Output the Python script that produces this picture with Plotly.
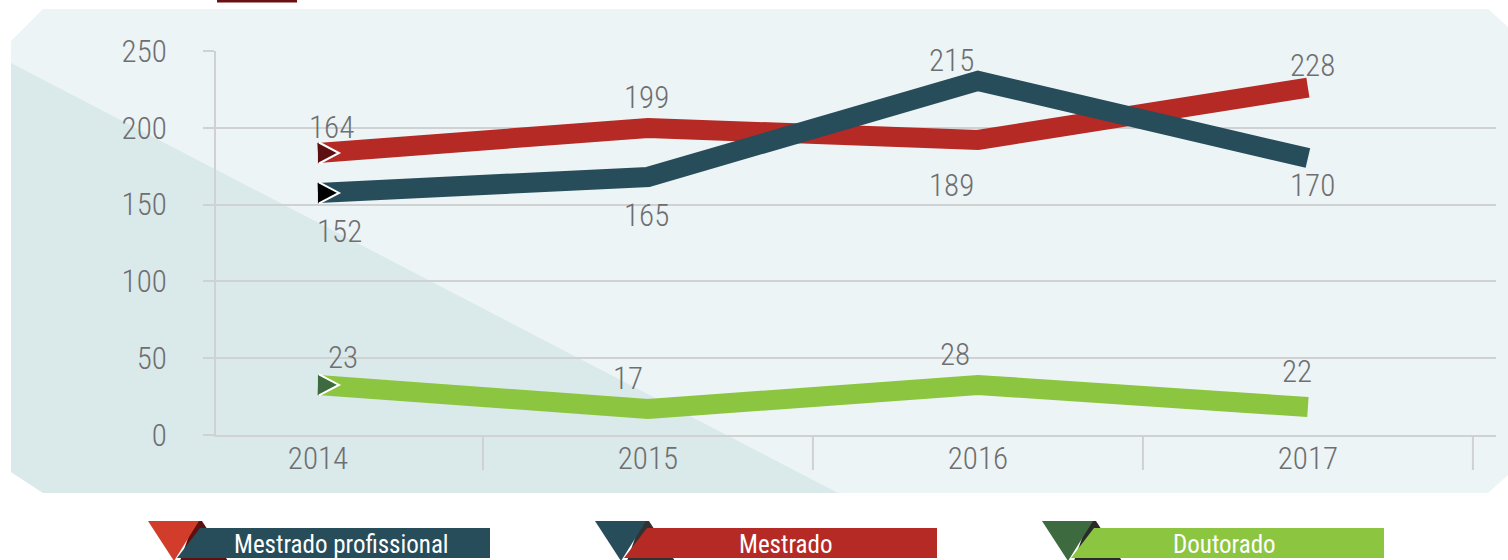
import plotly.graph_objects as go

# ---------------- data ----------------
years = ["2014", "2015", "2016", "2017"]
series_names = ["Mestrado profissional", "Mestrado", "Doutorado"]

# values printed next to the points
mestrado_labels = [164, 199, 189, 228]
mestrado_prof_labels = [152, 165, 215, 170]
doutorado_labels = [23, 17, 28, 22]

# heights at which the lines are actually drawn in the picture
mestrado_drawn = [183.6, 199.9, 192.1, 226.2]
mestrado_prof_drawn = [157.6, 168.0, 230.5, 180.3]
doutorado_drawn = [32.6, 16.9, 32.6, 18.2]

y_ticks = [0, 50, 100, 150, 200, 250]

# ---------------- styling ----------------
W_FIG, H_FIG = 1508, 560
L, R, T, B = 216, 1496, 51, 435
PW, PH = R - L, B - T

RED = "#B52A25"
TEAL = "#274C5A"
GREEN = "#8CC540"
GRID = "#CFD1D3"
TXT = "#6E6F71"
FONT = "Roboto Condensed, Roboto, sans-serif"

xpos = list(range(len(years)))


def px(x):
    return (x - L) / PW


def py(y):
    return (B - y) / PH


def poly(points):
    return "M " + " L ".join(f"{px(x):.5f},{py(y):.5f}" for x, y in points) + " Z"


fig = go.Figure()

series = [
    (mestrado_drawn, mestrado_labels, RED, "#5E0F10", [25, 30, -46, 22], [14, -1, -26, 5]),
    (mestrado_prof_drawn, mestrado_prof_labels, TEAL, "#000000", [-39, -39, 20, -27], [22, -1, -26, 5]),
    (doutorado_drawn, doutorado_labels, GREEN, "#3E6A40", [27, 31, 30, 36], [25, -20, -23, -11]),
]

shapes = []
annotations = []

# background panel with chamfered corners
shapes.append(dict(type="path", xref="paper", yref="paper", layer="below",
                   path=poly([(11, 41), (43, 9), (1488, 9), (1508, 27), (1508, 475),
                              (1488, 493), (43, 493), (11, 472)]),
                   fillcolor="#ECF4F6", line=dict(width=0)))
shapes.append(dict(type="path", xref="paper", yref="paper", layer="below",
                   path=poly([(11, 63), (838, 493), (43, 493), (11, 472)]),
                   fillcolor="#DAE9EA", line=dict(width=0)))
# cut-off banner at the very top
shapes.append(dict(type="rect", xref="paper", yref="paper", layer="below",
                   x0=px(217), x1=px(297), y0=py(2.5), y1=py(-2),
                   fillcolor="#6A0F12", line=dict(width=0)))

# category separators below the x axis
for i in xpos:
    shapes.append(dict(type="line", xref="x", yref="paper", layer="below",
                       x0=i + 0.5, x1=i + 0.5, y0=0, y1=-35 / PH,
                       line=dict(color=GRID, width=2)))

for drawn, labels, color, dark, yshifts, xshifts in series:
    fig.add_trace(go.Scatter(x=xpos, y=drawn, mode="lines",
                             line=dict(color=color, width=20),
                             hoverinfo="skip", showlegend=False))
    # arrow-like start marker
    shapes.append(dict(type="path", xref="x", yref="y", xsizemode="pixel", ysizemode="pixel",
                       xanchor=xpos[0], yanchor=drawn[0],
                       path="M 0,-10.5 L 20,0 L 0,10.5 Z",
                       fillcolor=dark, line=dict(width=0), layer="above"))
    shapes.append(dict(type="path", xref="x", yref="y", xsizemode="pixel", ysizemode="pixel",
                       xanchor=xpos[0], yanchor=drawn[0],
                       path="M 1,-10.5 L 21,0 L 1,10.5",
                       line=dict(color="white", width=2), layer="above"))
    for x, yv, lab, ys, xs in zip(xpos, drawn, labels, yshifts, xshifts):
        annotations.append(dict(x=x, y=yv, xref="x", yref="y", text=str(lab),
                                showarrow=False, yshift=ys, xshift=xs,
                                xanchor="center", yanchor="middle",
                                font=dict(family=FONT, size=31, color=TXT, weight=300)))

# custom legend
legend_items = [
    # (name, bar color, triangle color, back piece color, triangle left x, bar right x, text center x)
    (series_names[0], TEAL, "#D23C2B", "#5E0F10", 148, 490, 341),
    (series_names[1], RED, TEAL, "#333333", 595, 937, 785),
    (series_names[2], GREEN, "#3E6A40", "#2A2A2A", 1042, 1384, 1224),
]
for name, bar, tri, back, x0, xr, tx in legend_items:
    shapes.append(dict(type="path", xref="paper", yref="paper", layer="above",
                       path=poly([(x0 + 46, 521), (x0 + 54, 521), (x0 + 80, 561), (x0 + 32, 561)]),
                       fillcolor=back, line=dict(width=0)))
    shapes.append(dict(type="path", xref="paper", yref="paper", layer="above",
                       path=poly([(x0 + 52, 528), (xr, 528), (xr, 558), (x0 + 29, 558)]),
                       fillcolor=bar, line=dict(width=0)))
    shapes.append(dict(type="path", xref="paper", yref="paper", layer="above",
                       path=poly([(x0, 521), (x0 + 51, 521), (x0 + 26, 561)]),
                       fillcolor=tri, line=dict(width=0)))
    annotations.append(dict(x=px(tx), y=py(544), xref="paper", yref="paper", text=name,
                            showarrow=False, xanchor="center", yanchor="middle",
                            font=dict(family=FONT, size=25, color="white")))

fig.update_layout(
    width=W_FIG, height=H_FIG,
    margin=dict(l=L, r=W_FIG - R, t=T, b=H_FIG - B, autoexpand=False),
    paper_bgcolor="white", plot_bgcolor="rgba(0,0,0,0)",
    shapes=shapes, annotations=annotations, showlegend=False,
    xaxis=dict(range=[-0.309, 3.570], tickvals=xpos, ticktext=years, showgrid=False,
               showline=True, linecolor=GRID, linewidth=2, ticks="", ticklabelstandoff=-5,
               tickfont=dict(family=FONT, size=31, color=TXT, weight=300), zeroline=False,
               fixedrange=True),
    yaxis=dict(range=[0, 250], tickvals=y_ticks, showgrid=True, gridcolor=GRID, gridwidth=2,
               showline=True, linecolor=GRID, linewidth=2, ticks="outside", ticklen=11,
               tickcolor=GRID, tickwidth=2, ticklabelstandoff=30, zeroline=False,
               tickfont=dict(family=FONT, size=31, color=TXT, weight=300), fixedrange=True),
)

fig.write_html("out.html", config={"displayModeBar": False},
               post_script="document.body.style.margin='0px';")
